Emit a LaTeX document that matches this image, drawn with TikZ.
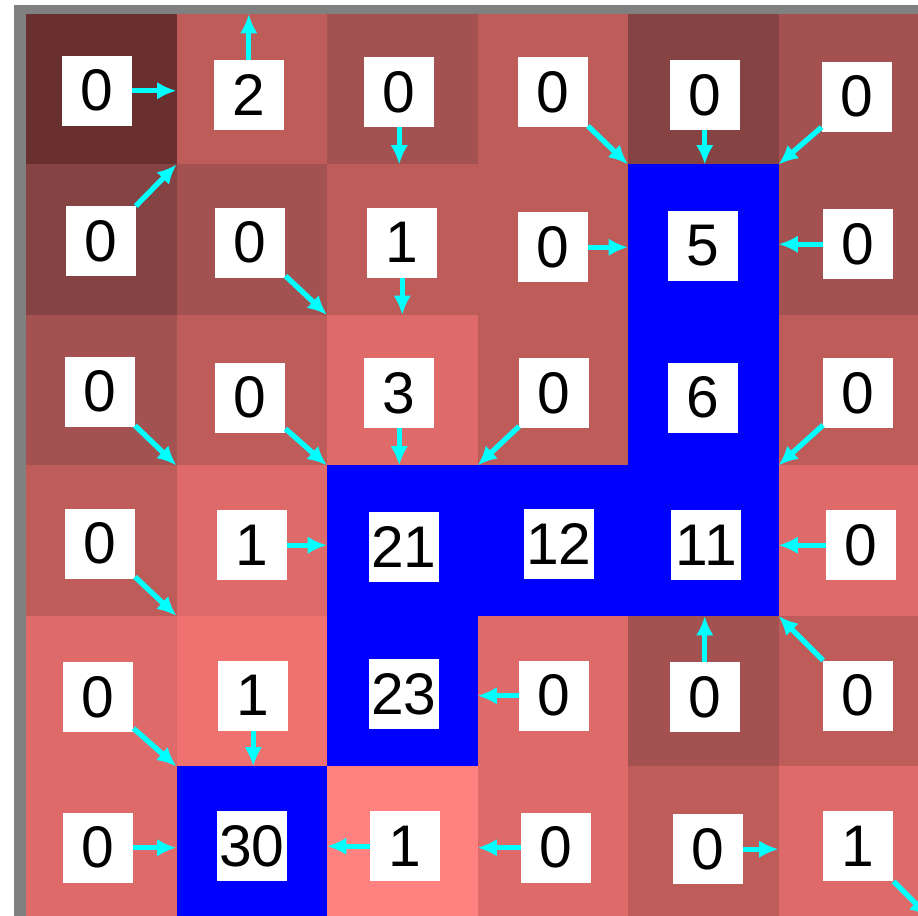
\documentclass[tikz,border=0pt]{standalone}
\usepackage{fontspec}
\setmainfont{Liberation Sans}
\usetikzlibrary{arrows.meta}
\definecolor{shade1}{RGB}{106,48,48}
\definecolor{shade2}{RGB}{133,67,67}
\definecolor{shade3}{RGB}{163,82,81}
\definecolor{shade4}{RGB}{190,92,90}
\definecolor{shade5}{RGB}{222,106,106}
\definecolor{shade6}{RGB}{240,114,112}
\definecolor{shade7}{RGB}{255,130,128}
\definecolor{pathblue}{RGB}{0,0,255}
\definecolor{flowcyan}{RGB}{0,255,255}
\definecolor{framegray}{RGB}{128,128,128}

\begin{document}
\begin{tikzpicture}[x=3cm,y=3cm,
  box/.style={fill=white,inner sep=0pt,minimum size=1.39cm,font=\fontsize{33.3}{36}\selectfont},
  flow/.style={->,>={Latex[length=11pt,width=10pt]},flowcyan,line width=3pt}]
\useasboundingbox (-0.173,0.093) rectangle (5.927,-5.993);
\clip (-0.173,0.093) rectangle (5.927,-5.993);
\fill[white] (-0.173,0.093) rectangle (5.927,-5.993);
\fill[framegray] (-0.080,0.060) rectangle (6,0);
\fill[framegray] (-0.080,0.060) rectangle (0,-6);

\fill[shade1] (0,0) rectangle ++(1,-1);
\fill[shade4] (1,0) rectangle ++(1,-1);
\fill[shade3] (2,0) rectangle ++(1,-1);
\fill[shade4] (3,0) rectangle ++(1,-1);
\fill[shade2] (4,0) rectangle ++(1,-1);
\fill[shade3] (5,0) rectangle ++(1,-1);

\fill[shade2] (0,-1) rectangle ++(1,-1);
\fill[shade3] (1,-1) rectangle ++(1,-1);
\fill[shade4] (2,-1) rectangle ++(1,-1);
\fill[shade4] (3,-1) rectangle ++(1,-1);
\fill[pathblue] (4,-1) rectangle ++(1,-1);
\fill[shade3] (5,-1) rectangle ++(1,-1);

\fill[shade3] (0,-2) rectangle ++(1,-1);
\fill[shade4] (1,-2) rectangle ++(1,-1);
\fill[shade5] (2,-2) rectangle ++(1,-1);
\fill[shade4] (3,-2) rectangle ++(1,-1);
\fill[pathblue] (4,-2) rectangle ++(1,-1);
\fill[shade4] (5,-2) rectangle ++(1,-1);

\fill[shade4] (0,-3) rectangle ++(1,-1);
\fill[shade5] (1,-3) rectangle ++(1,-1);
\fill[pathblue] (2,-3) rectangle ++(1,-1);
\fill[pathblue] (3,-3) rectangle ++(1,-1);
\fill[pathblue] (4,-3) rectangle ++(1,-1);
\fill[shade5] (5,-3) rectangle ++(1,-1);

\fill[shade5] (0,-4) rectangle ++(1,-1);
\fill[shade6] (1,-4) rectangle ++(1,-1);
\fill[pathblue] (2,-4) rectangle ++(1,-1);
\fill[shade5] (3,-4) rectangle ++(1,-1);
\fill[shade3] (4,-4) rectangle ++(1,-1);
\fill[shade4] (5,-4) rectangle ++(1,-1);

\fill[shade5] (0,-5) rectangle ++(1,-1);
\fill[pathblue] (1,-5) rectangle ++(1,-1);
\fill[shade7] (2,-5) rectangle ++(1,-1);
\fill[shade5] (3,-5) rectangle ++(1,-1);
\fill[shade4] (4,-5) rectangle ++(1,-1);
\fill[shade5] (5,-5) rectangle ++(1,-1);

\foreach \i in {0,...,6} {\foreach \j in {0,...,6} {\coordinate (g\i\j) at (\i,-\j);}}

\node[box] (A1) at (0.47,-0.51) {0};
\node[box] (A2) at (1.48,-0.54) {2};
\node[box] (A3) at (2.48,-0.52) {0};
\node[box] (A4) at (3.50,-0.52) {0};
\node[box] (A5) at (4.51,-0.54) {0};
\node[box] (A6) at (5.52,-0.55) {0};

\node[box] (B1) at (0.50,-1.51) {0};
\node[box] (B2) at (1.49,-1.52) {0};
\node[box] (B3) at (2.50,-1.52) {1};
\node[box] (B4) at (3.50,-1.55) {0};
\node[box] (B5) at (4.50,-1.54) {5};
\node[box] (B6) at (5.53,-1.53) {0};

\node[box] (C1) at (0.49,-2.51) {0};
\node[box] (C2) at (1.49,-2.55) {0};
\node[box] (C3) at (2.48,-2.52) {3};
\node[box] (C4) at (3.51,-2.52) {0};
\node[box] (C5) at (4.50,-2.55) {6};
\node[box] (C6) at (5.53,-2.52) {0};

\node[box] (D1) at (0.49,-3.52) {0};
\node[box] (D2) at (1.50,-3.53) {1};
\node[box] (D3) at (2.51,-3.54) {21};
\node[box] (D4) at (3.54,-3.52) {12};
\node[box] (D5) at (4.52,-3.53) {11};
\node[box] (D6) at (5.55,-3.53) {0};

\node[box] (E1) at (0.48,-4.54) {0};
\node[box] (E2) at (1.51,-4.53) {1};
\node[box] (E3) at (2.51,-4.52) {23};
\node[box] (E4) at (3.51,-4.53) {0};
\node[box] (E5) at (4.51,-4.54) {0};
\node[box] (E6) at (5.53,-4.53) {0};

\node[box] (F1) at (0.48,-5.54) {0};
\node[box] (F2) at (1.50,-5.53) {30};
\node[box] (F3) at (2.52,-5.53) {1};
\node[box] (F4) at (3.52,-5.54) {0};
\node[box] (F5) at (4.53,-5.55) {0};
\node[box] (F6) at (5.53,-5.53) {1};

\path[flow] (A1) edge (A1 -| g10);
\path[flow] (A2) edge (A2 |- g10);
\path[flow] (A3) edge (A3 |- g21);
\path[flow] (A4) edge (g41);
\path[flow] (A5) edge (A5 |- g41);
\path[flow] (A6) edge (g51);

\path[flow] (B1) edge (g11);
\path[flow] (B2) edge (g22);
\path[flow] (B3) edge (B3 |- g22);
\path[flow] (B4) edge (B4 -| g41);
\path[flow] (B6) edge (B6 -| g51);

\path[flow] (C1) edge (g13);
\path[flow] (C2) edge (g23);
\path[flow] (C3) edge (C3 |- g23);
\path[flow] (C4) edge (g33);
\path[flow] (C6) edge (g53);

\path[flow] (D1) edge (g14);
\path[flow] (D2) edge (D2 -| g24);
\path[flow] (D6) edge (D6 -| g54);

\path[flow] (E1) edge (g15);
\path[flow] (E2) edge (E2 |- g15);
\path[flow] (E4) edge (E4 -| g34);
\path[flow] (E5) edge (E5 |- g44);
\path[flow] (E6) edge (g54);

\path[flow] (F1) edge (F1 -| g15);
\path[flow] (F3) edge (F3 -| g25);
\path[flow] (F4) edge (F4 -| g35);
\path[flow] (F5) edge (F5 -| g55);
\path[flow] (F6) edge (g66);
\end{tikzpicture}
\end{document}
